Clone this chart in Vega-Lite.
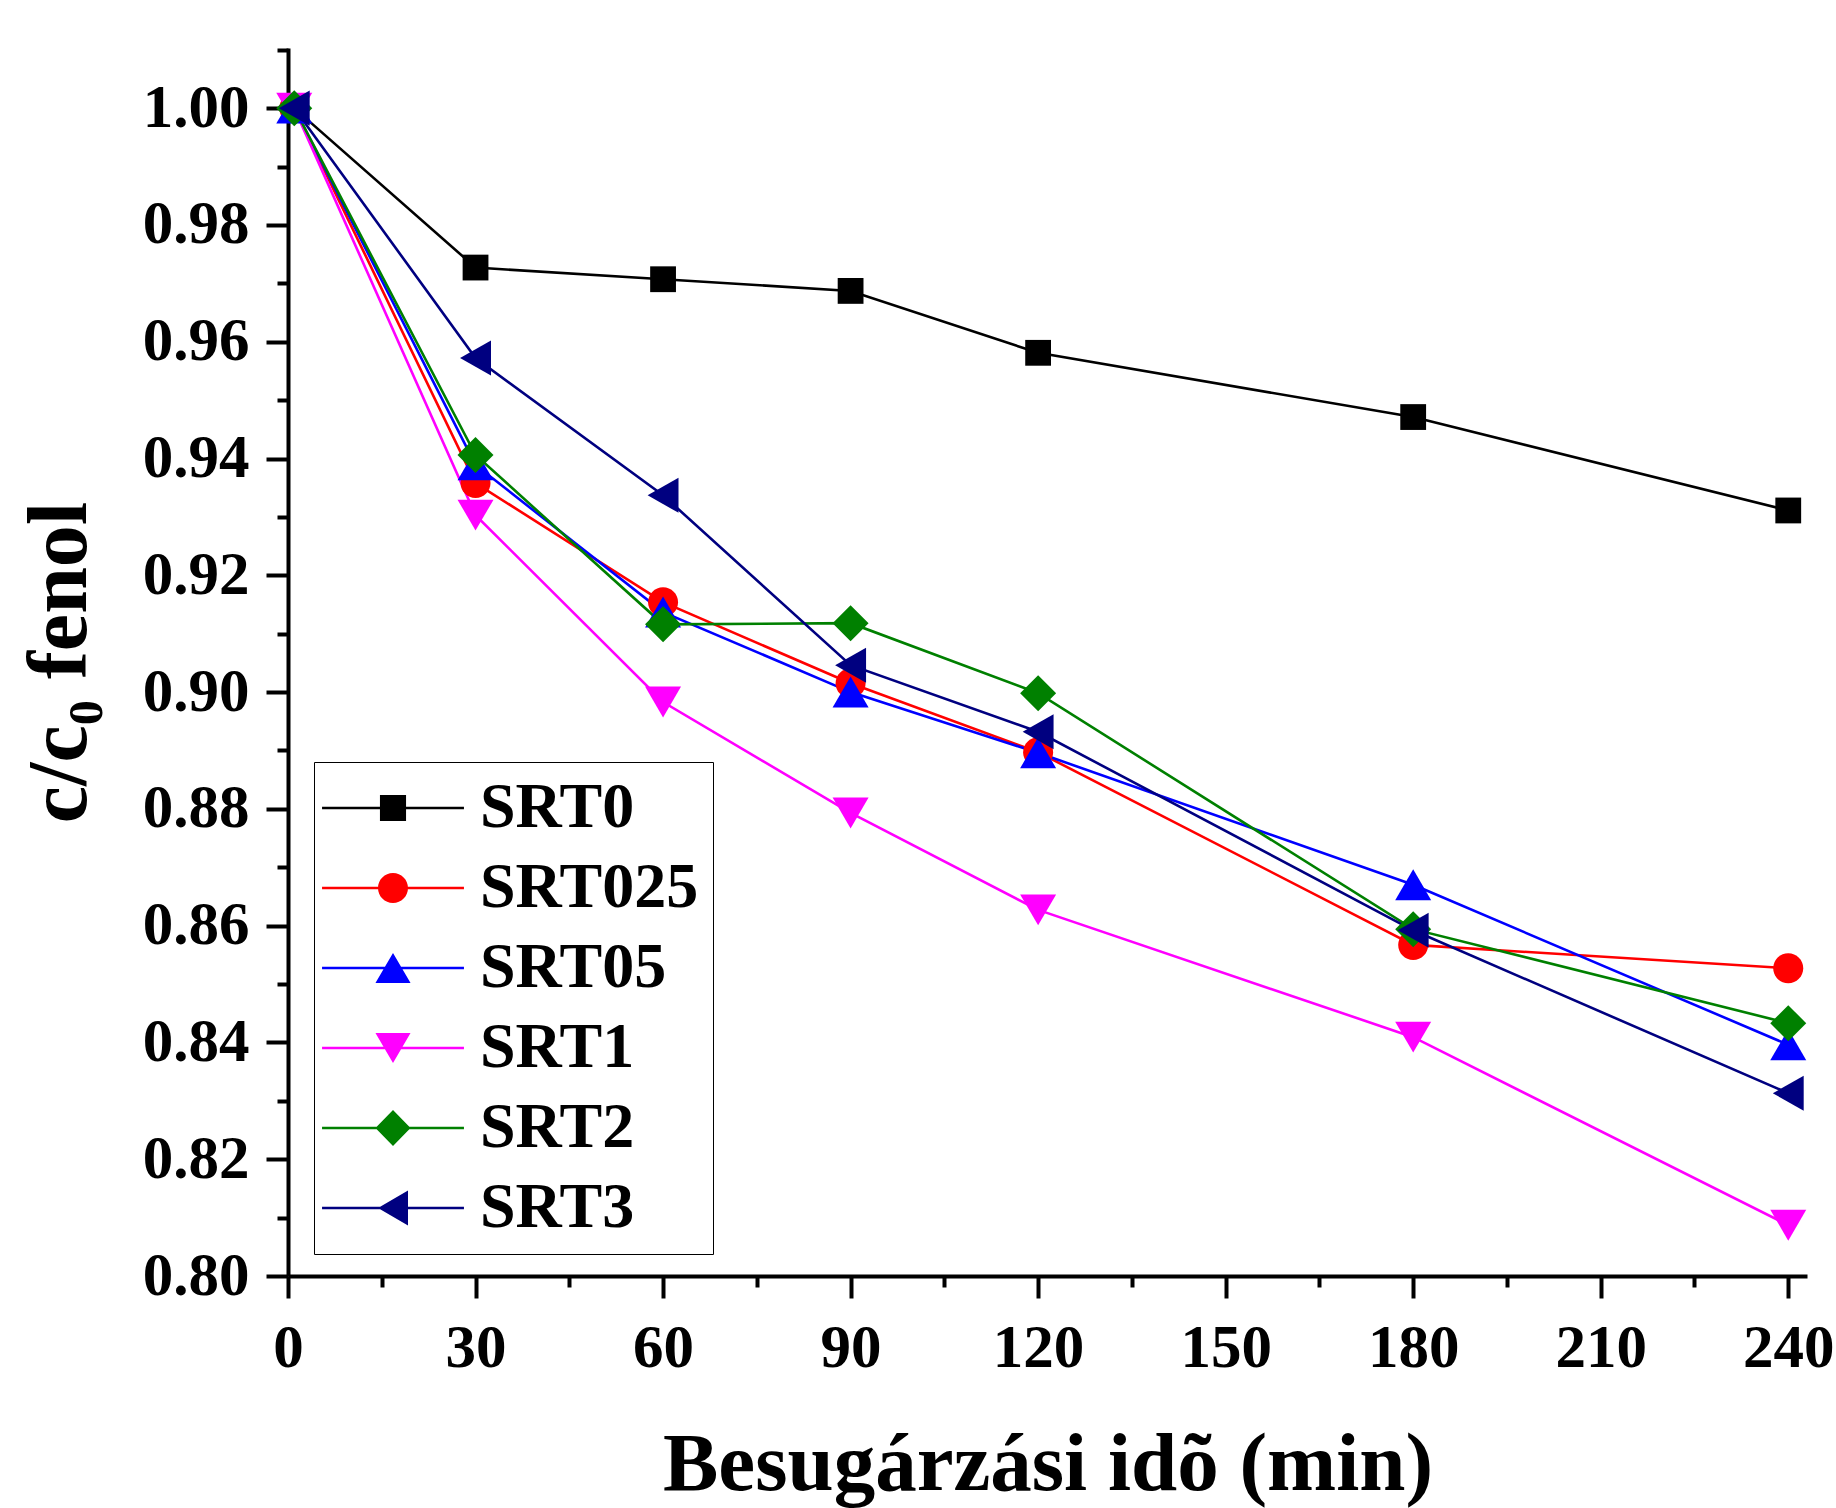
{
  "$schema": "https://vega.github.io/schema/vega-lite/v6.json",
  "autosize": "none",
  "width": 1519,
  "height": 1228,
  "padding": {"left": 288, "top": 48, "right": 29, "bottom": 232},
  "background": "white",
  "config": {
    "view": {"stroke": null},
    "font": "Liberation Serif"
  },
  "data": {
    "values": [
      {"s": "SRT0", "t": 1, "v": 1.0},
      {"s": "SRT0", "t": 30, "v": 0.9727},
      {"s": "SRT0", "t": 60, "v": 0.9707},
      {"s": "SRT0", "t": 90, "v": 0.9687},
      {"s": "SRT0", "t": 120, "v": 0.9581},
      {"s": "SRT0", "t": 180, "v": 0.9471},
      {"s": "SRT0", "t": 240, "v": 0.9311},
      {"s": "SRT025", "t": 1, "v": 1.0},
      {"s": "SRT025", "t": 30, "v": 0.9358},
      {"s": "SRT025", "t": 60, "v": 0.9154},
      {"s": "SRT025", "t": 90, "v": 0.9015},
      {"s": "SRT025", "t": 120, "v": 0.8897},
      {"s": "SRT025", "t": 180, "v": 0.8567},
      {"s": "SRT025", "t": 240, "v": 0.8527},
      {"s": "SRT05", "t": 1, "v": 1.0},
      {"s": "SRT05", "t": 30, "v": 0.9389},
      {"s": "SRT05", "t": 60, "v": 0.9137},
      {"s": "SRT05", "t": 90, "v": 0.9},
      {"s": "SRT05", "t": 120, "v": 0.8896},
      {"s": "SRT05", "t": 180, "v": 0.867},
      {"s": "SRT05", "t": 240, "v": 0.8396},
      {"s": "SRT1", "t": 1, "v": 1.0},
      {"s": "SRT1", "t": 30, "v": 0.9303},
      {"s": "SRT1", "t": 60, "v": 0.8983},
      {"s": "SRT1", "t": 90, "v": 0.8793},
      {"s": "SRT1", "t": 120, "v": 0.8627},
      {"s": "SRT1", "t": 180, "v": 0.8409},
      {"s": "SRT1", "t": 240, "v": 0.8087},
      {"s": "SRT2", "t": 1, "v": 1.0},
      {"s": "SRT2", "t": 30, "v": 0.9406},
      {"s": "SRT2", "t": 60, "v": 0.9116},
      {"s": "SRT2", "t": 90, "v": 0.9118},
      {"s": "SRT2", "t": 120, "v": 0.8998},
      {"s": "SRT2", "t": 180, "v": 0.8594},
      {"s": "SRT2", "t": 240, "v": 0.8433},
      {"s": "SRT3", "t": 1, "v": 1.0},
      {"s": "SRT3", "t": 30, "v": 0.9572},
      {"s": "SRT3", "t": 60, "v": 0.9337},
      {"s": "SRT3", "t": 90, "v": 0.9046},
      {"s": "SRT3", "t": 120, "v": 0.8932},
      {"s": "SRT3", "t": 180, "v": 0.8592},
      {"s": "SRT3", "t": 240, "v": 0.8313}
    ]
  },
  "encoding": {
    "x": {"field": "t", "type": "quantitative", "scale": {"domain": [0, 243], "nice": false, "zero": false}, "axis": null},
    "y": {"field": "v", "type": "quantitative", "scale": {"domain": [0.8, 1.0103], "nice": false, "zero": false}, "axis": null}
  },
  "resolve": {"axis": {"x": "independent", "y": "independent"}},
  "layer": [
    {
      "mark": {"type": "point", "opacity": 0},
      "encoding": {
        "x": {
          "field": "t", "type": "quantitative",
          "scale": {"domain": [0, 243], "nice": false, "zero": false},
          "axis": {
            "orient": "bottom", "values": [15, 45, 75, 105, 135, 165, 195, 225],
            "labels": false, "domain": false, "grid": false, "title": null,
            "tickSize": 11, "tickWidth": 4, "tickColor": "black"
          }
        },
        "y": {
          "field": "v", "type": "quantitative",
          "scale": {"domain": [0.8, 1.0103], "nice": false, "zero": false},
          "axis": {
            "orient": "left", "values": [0.81, 0.83, 0.85, 0.87, 0.89, 0.91, 0.93, 0.95, 0.97, 0.99, 1.01],
            "labels": false, "domain": false, "grid": false, "title": null,
            "tickSize": 11, "tickWidth": 4, "tickColor": "black"
          }
        }
      }
    },
    {
      "transform": [{"filter": "datum.s === 'SRT0'"}],
      "mark": {"type": "line", "strokeWidth": 2.6, "color": "#000000"},
      "encoding": {
        "x": {
          "field": "t", "type": "quantitative",
          "scale": {"domain": [0, 243], "nice": false, "zero": false},
          "axis": {
            "orient": "bottom", "values": [0, 30, 60, 90, 120, 150, 180, 210, 240],
            "grid": false, "domainWidth": 4, "domainColor": "black",
            "tickSize": 22, "tickWidth": 4, "tickColor": "black",
            "labelFont": "Liberation Serif", "labelFontSize": 61, "labelFontWeight": "bold",
            "labelColor": "black", "labelPadding": 20, "labelFlush": false, "labelOverlap": false,
            "title": "Besugárzási idõ (min)", "titleFont": "Liberation Serif", "titleFontSize": 83,
            "titleFontWeight": "bold", "titleColor": "black", "titlePadding": 45
          }
        },
        "y": {
          "field": "v", "type": "quantitative",
          "scale": {"domain": [0.8, 1.0103], "nice": false, "zero": false},
          "axis": {
            "orient": "left", "values": [0.8, 0.82, 0.84, 0.86, 0.88, 0.9, 0.92, 0.94, 0.96, 0.98, 1.0],
            "format": ".2f", "grid": false, "domainWidth": 4, "domainColor": "black",
            "tickSize": 22, "tickWidth": 4, "tickColor": "black",
            "labelFont": "Liberation Serif", "labelFontSize": 61, "labelFontWeight": "bold",
            "labelColor": "black", "labelPadding": 17, "labelOverlap": false,
            "title": "c/c₀ fenol", "titleFont": "Liberation Serif", "titleFontSize": 84,
            "titleFontWeight": "bold", "titleColor": "black", "titlePadding": 39
          }
        }
      }
    },
    {"transform": [{"filter": "datum.s === 'SRT025'"}], "mark": {"type": "line", "strokeWidth": 2.6, "color": "#FF0000"}},
    {"transform": [{"filter": "datum.s === 'SRT05'"}], "mark": {"type": "line", "strokeWidth": 2.6, "color": "#0000FF"}},
    {"transform": [{"filter": "datum.s === 'SRT1'"}], "mark": {"type": "line", "strokeWidth": 2.6, "color": "#FF00FF"}},
    {"transform": [{"filter": "datum.s === 'SRT2'"}], "mark": {"type": "line", "strokeWidth": 2.6, "color": "#008000"}},
    {"transform": [{"filter": "datum.s === 'SRT3'"}], "mark": {"type": "line", "strokeWidth": 2.6, "color": "#000080"}},
    {
      "transform": [{"filter": "datum.s === 'SRT0'"}],
      "mark": {"type": "point", "filled": true, "opacity": 1, "size": 900, "color": "#000000", "shape": "M-0.86,-0.86L0.86,-0.86L0.86,0.86L-0.86,0.86Z"}
    },
    {
      "transform": [{"filter": "datum.s === 'SRT025'"}],
      "mark": {"type": "point", "filled": true, "opacity": 1, "size": 900, "color": "#FF0000", "shape": "M-1,0A1,1,0,1,1,1,0A1,1,0,1,1,-1,0Z"}
    },
    {
      "transform": [{"filter": "datum.s === 'SRT05'"}],
      "mark": {"type": "point", "filled": true, "opacity": 1, "size": 900, "color": "#0000FF", "shape": "M0,-1.03L1.2,1.03L-1.2,1.03Z"}
    },
    {
      "transform": [{"filter": "datum.s === 'SRT1'"}],
      "mark": {"type": "point", "filled": true, "opacity": 1, "size": 900, "color": "#FF00FF", "shape": "M0,1.03L-1.2,-1.03L1.2,-1.03Z"}
    },
    {
      "transform": [{"filter": "datum.s === 'SRT2'"}],
      "mark": {"type": "point", "filled": true, "opacity": 1, "size": 900, "color": "#008000", "shape": "M-1.2,0L0,-1.2L1.2,0L0,1.2Z"}
    },
    {
      "transform": [{"filter": "datum.s === 'SRT3'"}],
      "mark": {"type": "point", "filled": true, "opacity": 1, "size": 900, "color": "#000080", "shape": "M-1.03,0L1.03,-1.17L1.03,1.17Z"}
    },
    {
      "mark": {"type": "point", "filled": true, "opacity": 0, "size": 900},
      "encoding": {
        "color": {
          "field": "s", "type": "nominal",
          "scale": {
            "domain": ["SRT0", "SRT025", "SRT05", "SRT1", "SRT2", "SRT3"],
            "range": ["#000000", "#FF0000", "#0000FF", "#FF00FF", "#008000", "#000080"]
          },
          "legend": {
            "title": null, "orient": "none", "legendX": 26, "legendY": 714,
            "padding": 14, "strokeColor": "black", "fillColor": "white",
            "labelFont": "Liberation Serif", "labelFontSize": 64, "labelFontWeight": "bold",
            "labelColor": "black", "labelLimit": 0, "labelOffset": 55, "symbolOffset": 33,
            "symbolSize": 900, "symbolOpacity": 1, "symbolStrokeWidth": 0, "rowPadding": 16,
            "encode": {"legend": {"strokeWidth": {"value": 2}}}
          }
        },
        "shape": {
          "field": "s", "type": "nominal",
          "legend": {
            "title": null, "orient": "none", "legendX": 26, "legendY": 714,
            "padding": 14, "strokeColor": "black", "fillColor": "white",
            "labelFont": "Liberation Serif", "labelFontSize": 64, "labelFontWeight": "bold",
            "labelColor": "black", "labelLimit": 0, "labelOffset": 55, "symbolOffset": 33,
            "symbolSize": 900, "symbolOpacity": 1, "symbolStrokeWidth": 0, "rowPadding": 16,
            "encode": {"legend": {"strokeWidth": {"value": 2}}}
          },
          "scale": {
            "domain": ["SRT0", "SRT025", "SRT05", "SRT1", "SRT2", "SRT3"],
            "range": [
              "M-4.73,-0.08L4.73,-0.08L4.73,0.08L-4.73,0.08ZM-0.87,-0.87L0.87,-0.87L0.87,0.87L-0.87,0.87Z",
              "M-4.73,-0.08L4.73,-0.08L4.73,0.08L-4.73,0.08ZM-1,0A1,1,0,1,1,1,0A1,1,0,1,1,-1,0Z",
              "M-4.73,-0.08L4.73,-0.08L4.73,0.08L-4.73,0.08ZM0,-1L1.17,1L-1.17,1Z",
              "M-4.73,-0.08L4.73,-0.08L4.73,0.08L-4.73,0.08ZM0,1L-1.17,-1L1.17,-1Z",
              "M-4.73,-0.08L4.73,-0.08L4.73,0.08L-4.73,0.08ZM-1.17,0L0,-1.2L1.17,0L0,1.2Z",
              "M-4.73,-0.08L4.73,-0.08L4.73,0.08L-4.73,0.08ZM-1,0L1,-1.17L1,1.17Z"
            ]
          }
        }
      }
    }
  ]
}
